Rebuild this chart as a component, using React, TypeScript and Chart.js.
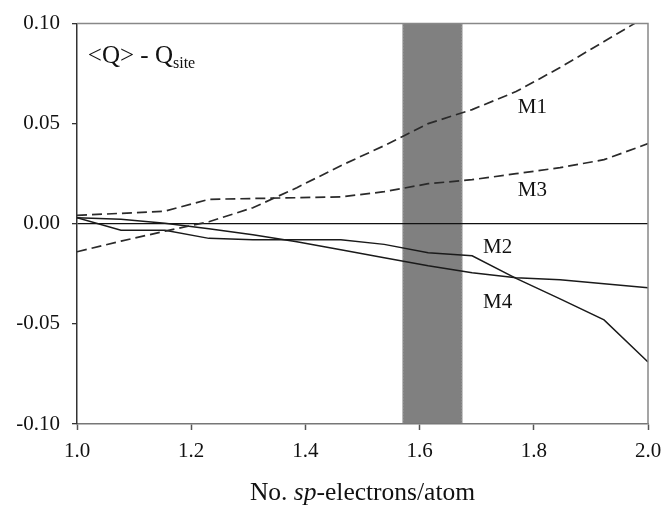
import React, { useEffect, useRef } from "react";
import { Chart, registerables } from "chart.js";

Chart.register(...registerables);

// x positions of the computed points (No. sp-electrons/atom)
const XS = [1.0, 1.077, 1.154, 1.231, 1.308, 1.385, 1.462, 1.538, 1.615, 1.692, 1.769, 1.846, 1.923, 2.0];
// <Q> - Q_site for each site
const M1 = [-0.014, -0.0087, -0.0037, 0.001, 0.008, 0.018, 0.029, 0.039, 0.05, 0.057, 0.066, 0.078, 0.091, 0.104];
const M3 = [0.0042, 0.0052, 0.0063, 0.0122, 0.0126, 0.013, 0.0134, 0.016, 0.02, 0.022, 0.025, 0.028, 0.032, 0.04];
const M2 = [0.003, -0.0032, -0.0032, -0.0073, -0.008, -0.008, -0.008, -0.0103, -0.0145, -0.016, -0.0273, -0.0375, -0.048, -0.069];
const M4 = [0.003, 0.0022, 0.0003, -0.0025, -0.0055, -0.009, -0.013, -0.017, -0.021, -0.0245, -0.027, -0.028, -0.03, -0.032];
const BAND = [1.57, 1.675];

const X_TICKS = [1.0, 1.2, 1.4, 1.6, 1.8, 2.0];
const Y_TICKS = [-0.1, -0.05, 0, 0.05, 0.1];

// annotation anchors (data coordinates)
const LABELS = [
  { text: "M1", x: 1.772, y: 0.0553 },
  { text: "M3", x: 1.772, y: 0.0139 },
  { text: "M2", x: 1.711, y: -0.0147 },
  { text: "M4", x: 1.711, y: -0.042 },
];
const Q_LABEL = { x: 1.019, y: 0.0803 };

const SERIF = "'Liberation Serif', 'DejaVu Serif', serif";

const pts = (ys: number[]) => XS.map((x, i) => ({ x, y: ys[i] }));

const overlay = {
  id: "overlay",
  beforeDraw(chart: any) {
    const { ctx, chartArea: a, scales } = chart;
    const x0 = scales.x.getPixelForValue(BAND[0]);
    const x1 = scales.x.getPixelForValue(BAND[1]);
    ctx.save();
    ctx.fillStyle = "#808080";
    ctx.fillRect(x0, a.top, x1 - x0, a.bottom - a.top);
    ctx.strokeStyle = "#b8b8b8";
    ctx.lineWidth = 1;
    ctx.setLineDash([1, 2]);
    for (const xx of [x0 + 0.5, x1 - 0.5]) {
      ctx.beginPath();
      ctx.moveTo(xx, a.top);
      ctx.lineTo(xx, a.bottom);
      ctx.stroke();
    }
    ctx.restore();
  },
  afterDraw(chart: any) {
    const { ctx, chartArea: a, scales } = chart;
    ctx.save();
    // top and right frame
    ctx.strokeStyle = "#888";
    ctx.lineWidth = 1.5;
    ctx.beginPath();
    ctx.moveTo(a.left, a.top);
    ctx.lineTo(a.right, a.top);
    ctx.lineTo(a.right, a.bottom);
    ctx.stroke();

    ctx.fillStyle = "#111";
    ctx.textBaseline = "alphabetic";
    ctx.textAlign = "left";
    // series labels
    ctx.font = `21px ${SERIF}`;
    for (const l of LABELS) {
      ctx.fillText(l.text, scales.x.getPixelForValue(l.x), scales.y.getPixelForValue(l.y));
    }
    // <Q> - Q_site
    const qx = scales.x.getPixelForValue(Q_LABEL.x);
    const qy = scales.y.getPixelForValue(Q_LABEL.y);
    ctx.font = `25px ${SERIF}`;
    const main = "<Q> - Q";
    ctx.fillText(main, qx, qy);
    const mw = ctx.measureText(main).width;
    ctx.font = `16px ${SERIF}`;
    ctx.fillText("site", qx + mw, qy + 5);

    // axis title with italic "sp"
    const parts = [
      { t: "No. ", f: `25.5px ${SERIF}` },
      { t: "sp", f: `italic 25.5px ${SERIF}` },
      { t: "-electrons/atom", f: `25.5px ${SERIF}` },
    ];
    let total = 0;
    for (const p of parts) {
      ctx.font = p.f;
      total += ctx.measureText(p.t).width;
    }
    let tx = (a.left + a.right) / 2 - total / 2;
    const ty = a.bottom + 76;
    for (const p of parts) {
      ctx.font = p.f;
      ctx.fillText(p.t, tx, ty);
      tx += ctx.measureText(p.t).width;
    }
    ctx.restore();
  },
};

export default function App() {
  const ref = useRef<HTMLCanvasElement | null>(null);

  useEffect(() => {
    if (!ref.current) return;
    const dashed = { borderDash: [10, 5], borderWidth: 1.7, borderColor: "#2a2a2a" };
    const solid = { borderWidth: 1.5, borderColor: "#1a1a1a" };
    const chart = new Chart(ref.current, {
      type: "line",
      data: {
        datasets: [
          { label: "M1", data: pts(M1), ...dashed },
          { label: "M3", data: pts(M3), ...dashed },
          { label: "M2", data: pts(M2), ...solid },
          { label: "M4", data: pts(M4), ...solid },
        ],
      },
      options: {
        responsive: false,
        maintainAspectRatio: false,
        animation: false,
        devicePixelRatio: 1,
        elements: { point: { radius: 0 }, line: { tension: 0, fill: false } },
        layout: { padding: { top: 23.5, right: 16, left: 0, bottom: 0 } },
        plugins: { legend: { display: false }, tooltip: { enabled: false } },
        scales: {
          x: {
            type: "linear",
            min: 1,
            max: 2,
            afterFit: (s: any) => {
              s.height = 82;
              s.paddingLeft = 0;
              s.paddingRight = 0;
            },
            afterBuildTicks: (s: any) => {
              s.ticks = X_TICKS.map((v) => ({ value: v }));
            },
            ticks: {
              padding: 9,
              color: "#111",
              font: { family: SERIF, size: 21 },
              callback: (v: any) => Number(v).toFixed(1),
              maxRotation: 0,
            },
            grid: {
              drawOnChartArea: false,
              tickLength: 6,
              tickColor: "#555",
              tickWidth: 1.5,
            },
            border: { color: "#777", width: 1.5 },
          },
          y: {
            type: "linear",
            min: -0.1,
            max: 0.1,
            afterFit: (s: any) => {
              s.width = 77;
              s.paddingTop = 0;
              s.paddingBottom = 0;
            },
            afterBuildTicks: (s: any) => {
              s.ticks = Y_TICKS.map((v) => ({ value: v }));
            },
            ticks: {
              padding: 12,
              color: "#111",
              font: { family: SERIF, size: 21 },
              callback: (v: any) => Number(v).toFixed(2),
            },
            grid: {
              drawTicks: true,
              tickLength: 5,
              tickColor: "#333",
              tickWidth: 1.3,
              lineWidth: 1.3,
              color: (c: any) => (c.tick && Math.abs(c.tick.value) < 1e-9 ? "#111" : "rgba(0,0,0,0)"),
            },
            border: { color: "#333", width: 1.5 },
          },
        },
      },
      plugins: [overlay],
    });
    return () => chart.destroy();
  }, []);

  return (
    <div style={{ position: "absolute", left: 0, top: 0, width: 664, height: 506, background: "#fff" }}>
      <canvas ref={ref} width={664} height={506} style={{ display: "block", width: 664, height: 506 }} />
    </div>
  );
}
